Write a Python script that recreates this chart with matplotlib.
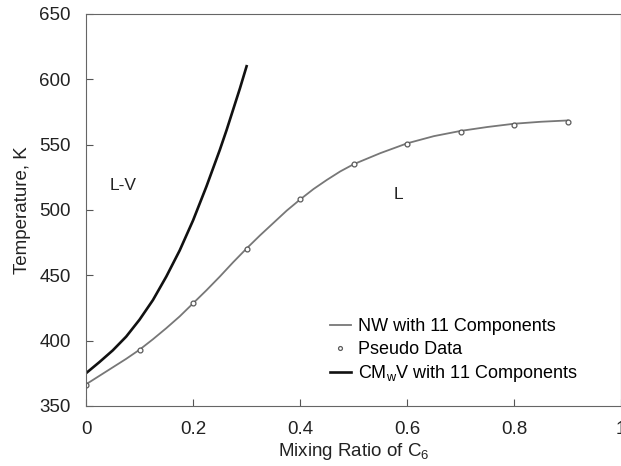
import numpy as np
import matplotlib
matplotlib.use("Agg")
import matplotlib.pyplot as plt

plt.rcParams['font.family'] = ['Liberation Sans', 'DejaVu Sans']

# Pseudo data points
pseudo_x = [0.0, 0.1, 0.2, 0.3, 0.4, 0.5, 0.6, 0.7, 0.8, 0.9]
pseudo_t = [366, 393, 428.5, 470, 508, 535, 550.5, 560, 565, 567]

# NW with 11 components (fitted curve)
nw_x = [0.0, 0.025, 0.05, 0.075, 0.1, 0.125, 0.15, 0.175, 0.2, 0.225, 0.25,
        0.275, 0.3, 0.325, 0.35, 0.375, 0.4, 0.425, 0.45, 0.475, 0.5,
        0.55, 0.6, 0.65, 0.7, 0.75, 0.8, 0.85, 0.9]
nw_t = [366.5, 373, 379.5, 386, 393, 401, 409.5, 418.5, 428.5, 438.5, 449,
        460, 470.5, 480.5, 490, 499.5, 508, 516, 523, 529.5, 535,
        543.5, 551, 556.5, 560.5, 563.5, 566, 567.5, 568.5]

# CMwV with 11 components
cm_x = [0.0, 0.025, 0.05, 0.075, 0.1, 0.125, 0.15, 0.175,
        0.2, 0.225, 0.25, 0.2625, 0.275, 0.2875, 0.3]
cm_t = [375, 383.5, 392.5, 403, 416, 431, 449, 469,
        492, 518, 546, 561, 577, 593, 610]

fig = plt.figure(figsize=(6.21, 4.66), dpi=100)
ax = fig.add_axes([0.1385, 0.129, 0.862, 0.841])

ax.plot(nw_x, nw_t, color='#777777', lw=1.3, label='NW with 11 Components')
ax.plot(pseudo_x, pseudo_t, 'o', ms=3.5, mfc='white', mec='#5a5a5a', mew=0.9,
        label='Pseudo Data')
ax.plot(cm_x, cm_t, color='#111111', lw=1.9, label='CM$_\\mathregular{w}$V with 11 Components')

ax.set_xlim(0, 1)
ax.set_ylim(350, 650)
ax.set_xticks([0, 0.2, 0.4, 0.6, 0.8, 1])
ax.set_xticklabels(['0', '0.2', '0.4', '0.6', '0.8', '1'])
ax.set_yticks(range(350, 651, 50))
ax.tick_params(direction='in', length=5, color='#555555', labelsize=13.5,
               labelcolor='#222222', pad=11)
for s in ax.spines.values():
    s.set_color('#666666')

ax.set_xlabel('Mixing Ratio of C$_\\mathregular{6}$', fontsize=13.5, color='#222222', labelpad=2)
ax.set_ylabel('Temperature, K', fontsize=13.5, color='#222222', labelpad=6)

ax.text(0.045, 519, 'L-V', fontsize=12.5, color='#222222', va='center')
ax.text(0.575, 512, 'L', fontsize=12.5, color='#222222', va='center')

ax.legend(loc='lower left', bbox_to_anchor=(0.455, 0.055), frameon=False,
          fontsize=13, handlelength=1.2, handletextpad=0.4, labelspacing=0.3,
          borderpad=0, borderaxespad=0, markerscale=0.8)

fig.savefig('out.png', dpi=100)
